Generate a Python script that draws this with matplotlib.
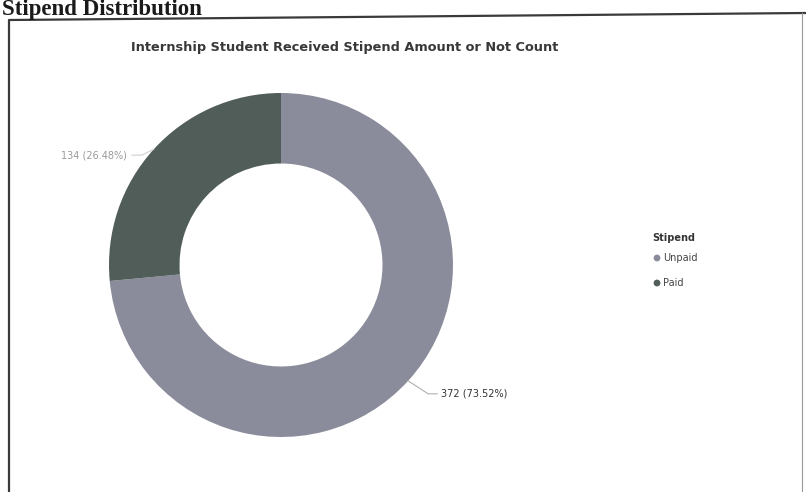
import numpy as np
import matplotlib
matplotlib.use("Agg")
import matplotlib.pyplot as plt

# Stipend counts per category
categories = ["Unpaid", "Paid"]
counts = [372, 134]
colors = ["#8a8c9b", "#515d59"]

W, H = 806, 492
fig = plt.figure(figsize=(W / 100, H / 100), dpi=100)
fig.patch.set_facecolor("white")
ax = fig.add_axes([0, 0, 1, 1])

# donut in pixel-like units (y measured upward)
cx, cy, r = 281, H - 265, 172
ax.pie(counts, colors=colors, startangle=90, counterclock=False,
       radius=r, center=(cx, cy),
       wedgeprops=dict(width=r * 0.41, edgecolor="none"))
ax.set_xlim(0, W)
ax.set_ylim(0, H)
ax.set_aspect("equal")
ax.axis("off")

# section heading above the card
ax.text(2, H - 15, "Stipend Distribution", ha="left", va="baseline",
        fontsize=16.5, fontweight="bold", family="Liberation Serif", color="#1a1a1a")

# card border
ax.plot([9, 9, 806], [0, H - 20, H - 13], color="#3a3a3a", lw=1.6, solid_capstyle="butt")
ax.plot([802, 802], [0, H - 13], color="#9a9a9a", lw=0.8)

ax.text(345, H - 47, "Internship Student Received Stipend Amount or Not Count",
        ha="center", va="center", fontsize=9.3, fontweight="bold", color="#383838")

# data labels with leader lines at each slice's middle angle
total = sum(counts)
start = 90.0
for value, cat in zip(counts, categories):
    sweep = 360.0 * value / total
    mid = np.deg2rad(start - sweep / 2)
    start -= sweep
    x0, y0 = cx + r * np.cos(mid), cy + r * np.sin(mid)
    label = "{} ({:.2f}%)".format(value, 100.0 * value / total)
    if np.cos(mid) >= 0:
        x1, y1 = x0 + 20, y0 - 13
        x2 = x1 + 9
        ax.plot([x0, x1, x2], [y0, y1, y1], color="#b0b0b0", lw=0.8)
        ax.text(x2 + 4, y1, label, ha="left", va="center", fontsize=7, color="#333333")
    else:
        x1, y1 = x0 - 12, y0 - 6
        x2 = x1 - 10
        ax.plot([x0, x1, x2], [y0, y1, y1], color="#d0d0d0", lw=0.8)
        ax.text(x2 - 5, y1, label, ha="right", va="center", fontsize=7, color="#9a9a9a")

# legend
ax.text(652, H - 238, "Stipend", ha="left", va="center", fontsize=7,
        fontweight="bold", color="#333333")
for i, (cat, col) in enumerate(zip(categories, colors)):
    ly = H - 258 - i * 25
    ax.scatter([657], [ly], s=24, color=col, edgecolors="none")
    ax.text(663, ly, cat, ha="left", va="center", fontsize=7, color="#444444")

fig.savefig("out.png", dpi=100, facecolor="white")
